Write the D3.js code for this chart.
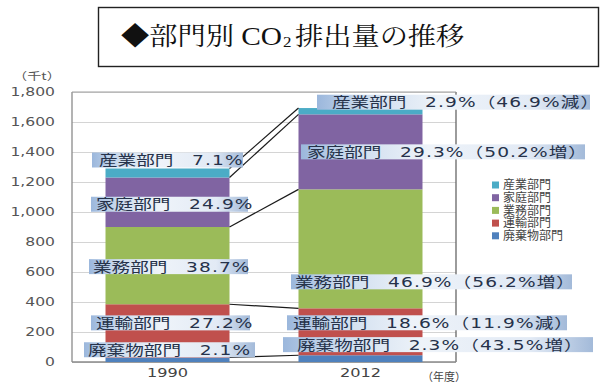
<!DOCTYPE html>
<html><head><meta charset="utf-8">
<script src="https://cdn.jsdelivr.net/npm/d3@7"></script>
<style>body{margin:0;background:#fff}svg{display:block}</style>
</head><body><svg id="c" width="603" height="387"></svg>
<script>
// ---- data ----
const sectors = ["廃棄物部門","運輸部門","業務部門","家庭部門","産業部門"]; // bottom -> top
const years = ["1990","2012"];
const values1990 = [30, 355, 515, 330, 60];
const values2012 = [45, 313, 793, 500, 42];
const share1990 = ["2.1%","27.2%","38.7%","24.9%","7.1%"];
const share2012 = ["2.3%","18.6%","46.9%","29.3%","2.9%"];
const change2012 = ["43.5%増","11.9%減","56.2%増","50.2%増","46.9%減"];
const yTicks = [0,200,400,600,800,1000,1200,1400,1600,1800];
const colors = ["#4f81bd","#c0504d","#9bbb59","#8064a2","#4bacc6"];
const titleParts = ["◆部門別 ","CO","2","排出量の推移"];
const yUnit = "（千t）";
const xUnit = "（年度）";

// ---- layout ----
const svg = d3.select("#c");
const L = 72, R = 456, T = 92, B = 362;
const x = d3.scaleBand().domain(years).range([L, R]).paddingInner(0.3575).paddingOuter(0.1736);
const y = d3.scaleLinear().domain([0, 1800]).range([B, T]);
const bw = x.bandwidth();
const SX = 1.33;
const labelFont = "'DejaVu Sans','Noto Sans CJK JP',sans-serif";
const cjk = "'Noto Sans CJK JP',sans-serif";

const defs = svg.append("defs");
const g = defs.append("linearGradient").attr("id","lbl").attr("x1",0).attr("x2",1).attr("y1",0).attr("y2",0);
[[0,"#9bb7dc"],[0.18,"#cddcee"],[0.45,"#eef3f9"],[0.8,"#e2eaf5"],[1,"#a3bad9"]]
  .forEach(([o,c]) => g.append("stop").attr("offset",o).attr("stop-color",c));

// title
svg.append("rect").attr("x",98.5).attr("y",7.5).attr("width",500).attr("height",59)
  .attr("fill","#fff").attr("stroke","#222").attr("stroke-width",1.4);
const tt = svg.append("text").attr("transform","translate(121,45) scale(1.13,1)").attr("font-size",25).attr("fill","#111")
  .attr("font-family","'Noto Serif CJK JP','Noto Sans CJK JP',serif");
tt.append("tspan").text(titleParts[0]);
tt.append("tspan").attr("font-family","'Liberation Serif',serif").attr("font-size",26).text(titleParts[1]);
tt.append("tspan").attr("font-family","'Liberation Serif',serif").attr("font-size",15).attr("dy",2).attr("dx",1).text(titleParts[2]);
tt.append("tspan").attr("dy",-2).attr("dx",3).text(titleParts[3]);

// grid + y axis
const yAxis = d3.axisLeft(y).tickValues(yTicks).tickSize(-(R - L)).tickPadding(17)
  .tickFormat(d3.format(","));
const ya = svg.append("g").attr("transform",`translate(${L},0)`).call(yAxis);
ya.select(".domain").remove();
ya.selectAll(".tick line").attr("stroke","#d4d4d4").attr("stroke-width",1.2);
ya.selectAll(".tick text").attr("font-family","'DejaVu Sans',sans-serif").attr("font-size",12)
  .attr("fill","#555").attr("x",-17/1.3).attr("transform","scale(1.3,1)");

// frame
svg.append("line").attr("x1",L).attr("x2",L).attr("y1",T).attr("y2",B).attr("stroke","#8a8a8a").attr("stroke-width",1.3);
svg.append("line").attr("x1",R).attr("x2",R).attr("y1",T).attr("y2",B).attr("stroke","#666").attr("stroke-width",1.3);
svg.append("line").attr("x1",L).attr("x2",R).attr("y1",B).attr("y2",B).attr("stroke","#8a8a8a").attr("stroke-width",1.3);
svg.append("line").attr("x1",L).attr("x2",R).attr("y1",T).attr("y2",T).attr("stroke","#a0a0a0").attr("stroke-width",1.2);

// bars
const rows = years.map((yr, i) => {
  const o = {year: yr};
  sectors.forEach((s, j) => o[s] = (i === 0 ? values1990 : values2012)[j]);
  return o;
});
const stack = d3.stack().keys(sectors)(rows);
svg.append("g").selectAll("g").data(stack).join("g").attr("fill",(d,i)=>colors[i])
  .selectAll("rect").data(d=>d).join("rect")
  .attr("x", d=>x(d.data.year)).attr("width", bw)
  .attr("y", d=>y(d[1])).attr("height", d=>y(d[0]) - y(d[1]));

// connectors
const c1990 = d3.cumsum(values1990), c2012 = d3.cumsum(values2012);
svg.append("g").selectAll("line").data(d3.range(sectors.length)).join("line")
  .attr("x1", x("1990") + bw).attr("y1", i=>y(c1990[i]))
  .attr("x2", x("2012")).attr("y2", i=>y(c2012[i]))
  .attr("stroke","#1a1a1a").attr("stroke-width",1.2);

// labels (layout constants: vertical nudges, text starts, box extents)
const off1990 = [-10, -8, 1, 2, -13];
const off2012 = [-14, -9, 33, 0, -9];
const start1990 = [88, 96, 93, 96, 99];
const start2012 = [297, 293, 295, 307, 332];
const box1990 = [[84, 255], [91, 250], [89, 248], [91, 248], [92, 243]];
const box2012 = [[283, 593], [287, 567], [291, 572], [301, 585], [317, 590]];
function label(tx, cy, name, rest, box) {
  svg.append("rect").attr("x", box[0]).attr("width", box[1] - box[0])
   .attr("y", cy - 7.5).attr("height", 15).attr("fill","url(#lbl)");
  const t = svg.append("text").attr("transform",`translate(${tx},${cy}) scale(${SX},1)`)
    .attr("font-family",labelFont).attr("font-size",14)
    .attr("fill","#26324a").attr("dy","0.36em");
  t.append("tspan").text(name + "\u3000");
  t.append("tspan").attr("letter-spacing",0.8).text(rest);
}
sectors.forEach((s, i) => {
  const m1 = y(((i ? c1990[i-1] : 0) + c1990[i]) / 2) + off1990[i];
  label(start1990[i], m1, s, share1990[i], box1990[i]);
  const m2 = y(((i ? c2012[i-1] : 0) + c2012[i]) / 2) + off2012[i];
  label(start2012[i], m2, s, share2012[i] + "（" + change2012[i] + "）", box2012[i]);
});

// x labels
years.forEach(yr => {
  svg.append("text").attr("transform",`translate(${x(yr)+bw/2},377) scale(1.35,1)`)
    .attr("text-anchor","middle").attr("font-family","'DejaVu Sans',sans-serif")
    .attr("font-size",12).attr("fill","#444").text(yr);
});
svg.append("text").attr("x",422).attr("y",381).attr("font-family",cjk).attr("font-size",11)
  .attr("fill","#444").text(xUnit);
svg.append("text").attr("transform","translate(13,80) scale(1.35,1)").attr("font-family",cjk)
  .attr("font-size",10.5).attr("fill","#555").text(yUnit);

// legend
const leg = svg.append("g");
sectors.slice().reverse().forEach((s, k) => {
  const cy = 185 + k * 12.7;
  const ci = sectors.length - 1 - k;
  leg.append("rect").attr("x",492).attr("y",cy-3.5).attr("width",7).attr("height",7).attr("fill",colors[ci]);
  leg.append("text").attr("x",503).attr("y",cy).attr("dy","0.36em").attr("font-family",cjk)
    .attr("font-size",12).attr("fill","#444").text(s);
});
</script></body></html>
